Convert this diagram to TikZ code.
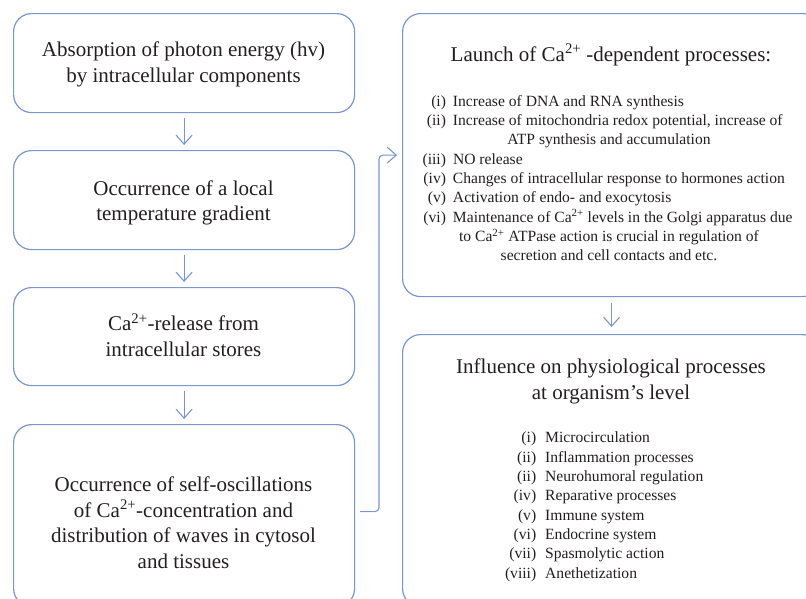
\documentclass[tikz,border=0pt]{standalone}
\usepackage{fontspec}
\setmainfont{Liberation Serif}
\usetikzlibrary{arrows.meta,calc}
\definecolor{boxblue}{RGB}{122,150,204}
\definecolor{txt}{RGB}{35,31,32}
\newcommand\litem[2]{\makebox[380pt][l]{\hspace{34pt}\llap{#1\hspace{7pt}}#2}}
\newcommand\ritem[2]{\llap{#1\hspace{9pt}}#2}
\begin{document}
\begin{tikzpicture}[x=1pt,y=-1pt,
  box/.style={draw=boxblue, line width=1.2pt, rounded corners=18pt, inner sep=0pt, anchor=north west},
  flow/.style={draw=boxblue, line width=1.1pt, -{Straight Barb[length=9pt,width=16pt]}},
  maintext/.style={inner sep=0pt, anchor=north, align=center, text=txt, font=\fontsize{21}{25.5}\selectfont},
  titletext/.style={maintext, font=\fontsize{21}{26}\selectfont},
  listtext/.style={inner sep=0pt, text=txt, font=\fontsize{15.6}{19.3}\selectfont}]
\useasboundingbox (0,0) rectangle (806,598);
\clip (0,0) rectangle (806,598);
% boxes
\node[box, minimum width=341pt, minimum height=99pt] (b1) at (13,13) {};
\node[box, minimum width=341pt, minimum height=99pt] (b2) at (13,150) {};
\node[box, minimum width=341pt, minimum height=98pt] (b3) at (13,287) {};
\node[box, minimum width=341pt, minimum height=182pt] (b4) at (13,424) {};
\node[box, minimum width=418pt, minimum height=283pt] (r1) at (402,13) {};
\node[box, minimum width=418pt, minimum height=272pt] (r2) at (402,334) {};
% connectors
\draw[flow] ([yshift=-5pt]b1.south) -- ([yshift=5pt]b2.north);
\draw[flow] ([yshift=-5pt]b2.south) -- ([yshift=5pt]b3.north);
\draw[flow] ([yshift=-5pt]b3.south) -- ([yshift=5pt]b4.north);
\draw[flow] ([yshift=-6pt]r1.south) -- ([yshift=7pt]r2.north);
\draw[flow, rounded corners=4pt] ([shift={(5pt,4pt)}]b4.east) -| ($(r1.west)+(-23,0)$) -- ([xshift=-5pt]r1.west);
% left texts
\node[maintext] (t1) at (183.5,38.85) {\strut Absorption of photon energy (hv)\\by intracellular components};
\node[maintext] (t2) at (183.5,177.15) {\strut Occurrence of a local\\temperature gradient};
\node[maintext] (t3) at (183.5,312.85) {\strut Ca\textsuperscript{2+}-release from\\intracellular stores};
\node[maintext] (t4) at (183.5,473.85) {\strut Occurrence of self-oscillations\\of Ca\textsuperscript{2+}-concentration and\\distribution of waves in cytosol\\and tissues};
% right texts
\node[titletext] (h1) at (611,42.8) {\strut Launch of Ca\textsuperscript{2+} -dependent processes:};
\node[listtext, anchor=north, align=center] (l1) at (609,92.49) {\strut\litem{(i)}{Increase of DNA and RNA synthesis}\\
\litem{(ii)}{Increase of mitochondria redox potential, increase of}\\
ATP synthesis and accumulation\\
\litem{(iii)}{NO release}\\
\litem{(iv)}{Changes of intracellular response to hormones action}\\
\litem{(v)}{Activation of endo- and exocytosis}\\
\litem{(vi)}{Maintenance of Ca\textsuperscript{2+} levels in the Golgi apparatus due}\\
to Ca\textsuperscript{2+} ATPase action is crucial in regulation of\\
secretion and cell contacts and etc.};
\node[titletext] (h2) at (611,354.8) {\strut Influence on physiological processes\\at organism’s level};
\node[listtext, anchor=north west, align=left] (l2) at (545,429.2) {\strut\ritem{(i)}{Microcirculation}\\
\ritem{(ii)}{Inflammation processes}\\
\ritem{(ii)}{Neurohumoral regulation}\\
\ritem{(iv)}{Reparative processes}\\
\ritem{(v)}{Immune system}\\
\ritem{(vi)}{Endocrine system}\\
\ritem{(vii)}{Spasmolytic action}\\
\ritem{(viii)}{Anethetization}};
\end{tikzpicture}
\end{document}
